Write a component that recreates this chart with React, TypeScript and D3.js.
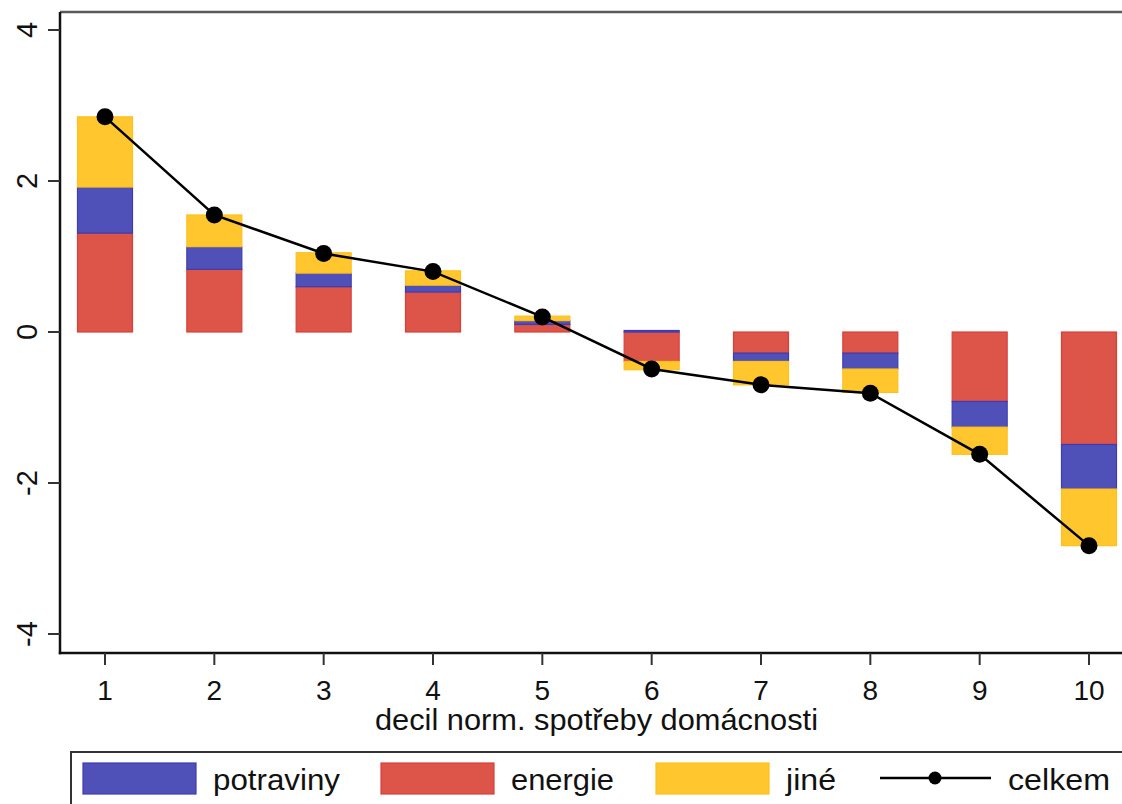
import React from "react";
import * as d3 from "d3";

const deciles = [1, 2, 3, 4, 5, 6, 7, 8, 9, 10];
const energie = [1.31, 0.83, 0.6, 0.53, 0.1, -0.39, -0.28, -0.28, -0.92, -1.49];
const potraviny = [0.61, 0.3, 0.18, 0.09, 0.05, 0.02, -0.11, -0.21, -0.34, -0.59];
const jine = [0.93, 0.42, 0.27, 0.19, 0.06, -0.11, -0.31, -0.31, -0.36, -0.75];
const celkem = [2.85, 1.55, 1.04, 0.8, 0.2, -0.49, -0.7, -0.81, -1.62, -2.83];
const yTicks = [-4, -2, 0, 2, 4];

const seriesKeys = ["energie", "potraviny", "jine"];
const fills: Record<string, string> = { potraviny: "#5050B9", energie: "#DD5449", jine: "#FFC62D" };
const strokes: Record<string, string> = { potraviny: "#3C3CB2", energie: "#D8413A", jine: "#FFC01E" };
const legendItems = [
  { key: "potraviny", label: "potraviny", len: 127 },
  { key: "energie", label: "energie", len: 103 },
  { key: "jine", label: "jiné", len: 50 },
];

const W = 1122;
const H = 804;
const FONT = "'Liberation Sans', Arial, Helvetica, sans-serif";

export default function App() {
  const x = d3.scaleLinear().domain([1, 10]).range([105, 1089]);
  const y = d3.scaleLinear().domain([-4, 4]).range([634, 30]);
  const axisX = 60;
  const axisY = 653;
  const barW = 55;

  const table = deciles.map((d, i) => ({
    decil: d,
    energie: energie[i],
    potraviny: potraviny[i],
    jine: jine[i],
  }));
  const stacked = d3.stack<any>().keys(seriesKeys).offset(d3.stackOffsetDiverging)(table);

  const line = d3
    .line<number>()
    .x((_, i) => x(deciles[i]))
    .y((v) => y(v));

  return (
    <svg
      width={W}
      height={H}
      style={{ position: "absolute", left: 0, top: 0, display: "block", background: "#fff" }}
      fontFamily={FONT}
    >
      <rect x={0} y={0} width={W} height={H} fill="#fff" />
      {/* plot region frame */}
      <line x1={axisX} x2={W + 10} y1={12} y2={12} stroke="#5a5a5a" strokeWidth={2.5} />

      {/* bars */}
      {stacked.map((s) => (
        <g key={s.key}>
          {s.map((d, i) => {
            const y0 = y(d[0]);
            const y1 = y(d[1]);
            const top = Math.min(y0, y1);
            const h = Math.abs(y1 - y0);
            if (h < 0.01) return null;
            return (
              <rect
                key={i}
                x={x(deciles[i]) - barW / 2}
                y={top}
                width={barW}
                height={h}
                fill={fills[s.key]}
                stroke={strokes[s.key]}
                strokeWidth={1.2}
              />
            );
          })}
        </g>
      ))}

      {/* total line */}
      <path d={line(celkem) || ""} fill="none" stroke="#000" strokeWidth={2.5} />
      {celkem.map((v, i) => (
        <circle key={i} cx={x(deciles[i])} cy={y(v)} r={8.5} fill="#000" />
      ))}

      {/* y axis */}
      <line x1={axisX} x2={axisX} y1={12} y2={axisY + 1.2} stroke="#111" strokeWidth={2.5} />
      {yTicks.map((t) => (
        <g key={t}>
          <line x1={axisX - 12} x2={axisX} y1={y(t)} y2={y(t)} stroke="#333" strokeWidth={2} />
          <text
            transform={`translate(37,${y(t)}) rotate(-90)`}
            textAnchor="middle"
            fontSize={29}
            fill="#111"
          >
            {t}
          </text>
        </g>
      ))}

      {/* x axis */}
      <line x1={axisX - 1.2} x2={W + 10} y1={axisY} y2={axisY} stroke="#111" strokeWidth={2.5} />
      {deciles.map((d) => (
        <g key={d}>
          <line x1={x(d)} x2={x(d)} y1={axisY} y2={axisY + 12} stroke="#333" strokeWidth={2} />
          <text x={x(d)} y={700} textAnchor="middle" fontSize={28} fill="#111">
            {d}
          </text>
        </g>
      ))}
      <text
        x={375}
        y={730}
        fontSize={29}
        fill="#111"
        textLength={443}
        lengthAdjust="spacingAndGlyphs"
      >
        decil norm. spotřeby domácnosti
      </text>

      {/* legend */}
      <rect x={71} y={752} width={W} height={100} fill="#fff" stroke="#333" strokeWidth={2} />
      {legendItems.map((it, i) => {
        const sx = [83, 381, 656][i];
        return (
          <g key={it.key}>
            <rect
              x={sx}
              y={763}
              width={113}
              height={31}
              fill={fills[it.key]}
              stroke={strokes[it.key]}
              strokeWidth={1.2}
            />
            <text
              x={sx + 130}
              y={790}
              fontSize={29}
              fill="#111"
              textLength={it.len}
              lengthAdjust="spacingAndGlyphs"
            >
              {it.label}
            </text>
          </g>
        );
      })}
      <line x1={880} x2={991} y1={778} y2={778} stroke="#000" strokeWidth={2.5} />
      <circle cx={935} cy={778} r={6.5} fill="#000" />
      <text
        x={1008}
        y={790}
        fontSize={29}
        fill="#111"
        textLength={102}
        lengthAdjust="spacingAndGlyphs"
      >
        celkem
      </text>
    </svg>
  );
}
